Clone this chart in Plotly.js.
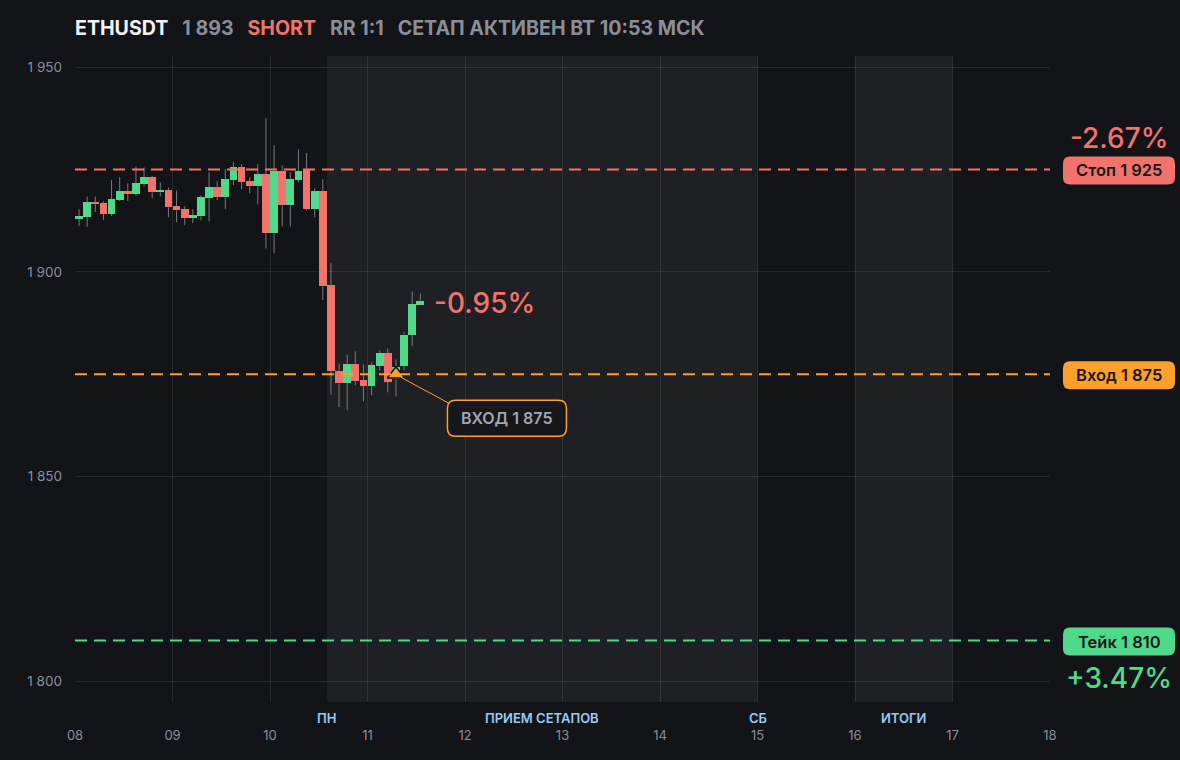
<!DOCTYPE html>
<html>
<head>
<meta charset="utf-8">
<script src="https://cdn.plot.ly/plotly-3.0.1.min.js"></script>
<style>
html,body{margin:0;padding:0;background:#131418;}
#chart{width:1180px;height:760px;}
</style>
</head>
<body>
<div id="chart"></div>
<script>
// ---------- DATA ----------
const symbol = 'ETHUSDT';
const lastPriceLabel = '1\u00a0893';
const side = 'SHORT';
const rrLabel = 'RR 1:1';
const statusLabel = 'СЕТАП АКТИВЕН ВТ 10:53 МСК';

const firstCandleUTC = Date.UTC(2023, 6, 8, 0, 0);   // 08 00:00
const candleHours = 2;

const open  = [1912.9,1913.4,1917.0,1916.7,1914.1,1917.6,1919.7,1919.0,1921.4,1923.1,
               1919.4,1919.9,1916.0,1915.3,1913.1,1913.6,1918.0,1920.6,1918.2,1922.4,
               1925.5,1922.1,1920.9,1923.8,1909.4,1924.6,1916.3,1922.4,1925.1,1915.3,
               1919.7,1896.7,1875.9,1872.8,1877.6,1873.5,1872.1,1877.0,1880.1,1873.8,
               1877.0,1884.6,1892.0];
const high  = [1915.3,1918.4,1918.4,1917.2,1922.4,1923.1,1921.6,1925.8,1925.5,1923.4,
               1921.9,1920.6,1919.9,1916.0,1915.3,1918.7,1924.3,1922.1,1925.1,1926.8,
               1926.3,1923.1,1926.3,1937.5,1930.9,1926.0,1924.3,1929.9,1929.0,1920.4,
               1922.6,1902.1,1877.6,1879.8,1880.6,1877.4,1877.9,1880.8,1881.3,1878.6,
               1885.3,1895.2,1894.7];
const low   = [1911.2,1911.0,1914.6,1912.7,1913.6,1917.3,1917.3,1918.6,1920.9,1918.0,
               1918.5,1913.3,1912.1,1911.4,1911.9,1912.6,1912.3,1917.5,1915.3,1921.2,
               1920.2,1919.2,1916.5,1905.7,1904.5,1911.1,1911.1,1921.8,1915.0,1913.3,
               1893.1,1870.0,1867.0,1866.2,1872.3,1868.4,1869.9,1875.9,1870.6,1869.6,
               1876.0,1881.9,1891.8];
const close = [1913.6,1917.0,1916.5,1914.1,1917.7,1919.7,1919.0,1921.6,1923.1,1919.4,
               1919.9,1915.8,1915.0,1913.1,1913.8,1918.2,1920.6,1918.2,1922.6,1925.5,
               1921.9,1920.9,1923.8,1909.4,1924.6,1916.3,1922.6,1924.6,1915.3,1919.7,
               1896.5,1875.8,1872.8,1877.6,1873.3,1872.1,1877.2,1880.1,1873.1,1876.9,
               1884.7,1892.1,1893.0];

const currentPrice = 1893;
const stopPrice = 1925, entryPrice = 1875, takePrice = 1810;
const stopLabel = 'Стоп 1\u00a0925';
const entryLevelLabel = 'Вход 1\u00a0875';
const takeLabel = 'Тейк 1\u00a0810';
const stopPct = '-2.67%';
const takePct = '+3.47%';
const currentPct = '-0.95%';
const entryTime = '2023-07-11 07:00';
const entryBoxLabel = 'ВХОД 1\u00a0875';

const zoneStarts = ['2023-07-10 14:00', '2023-07-16 00:00'];
const zoneEnds   = ['2023-07-15 00:00', '2023-07-17 00:00'];
const sessionLabels = ['ПН', 'ПРИЕМ СЕТАПОВ', 'СБ', 'ИТОГИ'];
const sessionLabelTimes = ['2023-07-10 14:00', '2023-07-12 19:00', '2023-07-15 00:00', '2023-07-16 12:00'];

const xRange = ['2023-07-08 00:00', '2023-07-18 00:00'];
const yRange = [1795, 1952.7];
const yTickVals = [1800, 1850, 1900, 1950];
const yTickText = ['1\u00a0800', '1\u00a0850', '1\u00a0900', '1\u00a0950'];

// ---------- STYLE ----------
const C = {
  bg: '#131418', zone: '#1f2024', grid: 'rgba(255,255,255,0.085)',
  up: '#4fd98a', down: '#f2726c', wick: '#777a82', entry: '#ff9f2e',
  tick: '#8b8e97', session: '#9ccaf4', white: '#f1f2f4', darkText: '#18191d'
};
const FONT = 'Inter, "Noto Sans", sans-serif';
const HOUR = 3600 * 1000;

const times = open.map((_, i) => firstCandleUTC + (i + 0.5) * candleHours * HOUR);
const colors = open.map((o, i) => close[i] >= o ? C.up : C.down);
const bodyBase = open.map((o, i) => Math.min(o, close[i]));
const bodyLen = open.map((o, i) => Math.abs(close[i] - o));

const wx = [], wy = [];
times.forEach((t, i) => {
  const top = Math.max(open[i], close[i]), bot = Math.min(open[i], close[i]);
  wx.push(t, t, null, t, t, null);
  wy.push(high[i], top, null, bot, low[i], null);
});

const traces = [
  { type: 'scatter', mode: 'lines', x: wx, y: wy, line: { color: C.wick, width: 1 },
    hoverinfo: 'skip', connectgaps: false },
  { type: 'bar', x: times, y: bodyLen, base: bodyBase, width: candleHours * HOUR * 0.94,
    marker: { color: colors, line: { width: 0 } }, hoverinfo: 'skip' },
  { type: 'scatter', mode: 'markers', x: [entryTime], y: [entryPrice],
    marker: { symbol: 'triangle-up', size: 15, color: C.entry, line: { color: '#101114', width: 1.5 } },
    hoverinfo: 'skip' }
];

function rrPath(cx, cy, w, h, r) {
  const l = cx - w / 2, rt = cx + w / 2, b = cy - h / 2, t = cy + h / 2;
  return `M ${l + r},${t} L ${rt - r},${t} Q ${rt},${t} ${rt},${t - r} L ${rt},${b + r} ` +
         `Q ${rt},${b} ${rt - r},${b} L ${l + r},${b} Q ${l},${b} ${l},${b + r} ` +
         `L ${l},${t - r} Q ${l},${t} ${l + r},${t} Z`;
}

const shapes = [];
zoneStarts.forEach((s, i) => shapes.push({
  type: 'rect', xref: 'x', yref: 'paper', x0: s, x1: zoneEnds[i], y0: 0, y1: 1,
  fillcolor: C.zone, line: { width: 0 }, layer: 'below'
}));
[[stopPrice, C.down], [entryPrice, C.entry], [takePrice, C.up]].forEach(([p, col]) => shapes.push({
  type: 'line', xref: 'paper', yref: 'y', x0: 0, x1: 1, y0: p, y1: p,
  line: { color: col, width: 2, dash: '12px,7px' }, layer: 'above'
}));
// right-hand level tags
[[stopPrice, C.down], [entryPrice, C.entry], [takePrice, C.up]].forEach(([p, col]) => shapes.push({
  type: 'path', xref: 'paper', yref: 'y', xsizemode: 'pixel', ysizemode: 'pixel',
  xanchor: 1, yanchor: p, path: rrPath(69, -1, 112, 28, 7),
  fillcolor: col, line: { width: 0 }, layer: 'above'
}));
// entry callout box and connector
shapes.push({
  type: 'path', xref: 'x', yref: 'y', xsizemode: 'pixel', ysizemode: 'pixel',
  xanchor: entryTime, yanchor: entryPrice, path: rrPath(111, -44, 119, 36, 8),
  fillcolor: '#16171b', line: { color: C.entry, width: 1.5 }, layer: 'above'
});
shapes.push({
  type: 'line', xref: 'x', yref: 'y', xsizemode: 'pixel', ysizemode: 'pixel',
  xanchor: entryTime, yanchor: entryPrice, x0: 5, y0: -3, x1: 53, y1: -29,
  line: { color: C.entry, width: 1 }, layer: 'above'
});

const annotations = [];
[[stopPrice, stopLabel], [entryPrice, entryLevelLabel], [takePrice, takeLabel]].forEach(([p, t]) => annotations.push({
  xref: 'paper', yref: 'y', x: 1, y: p, xshift: 69, yshift: -1, text: t, showarrow: false,
  xanchor: 'center', yanchor: 'middle',
  font: { family: FONT, size: 16.5, color: C.darkText, weight: 600 }
}));
annotations.push({ xref: 'paper', yref: 'y', x: 1, y: stopPrice, xshift: 69, yshift: 31,
  text: stopPct, showarrow: false, xanchor: 'center', yanchor: 'middle',
  font: { family: FONT, size: 28, color: C.down, weight: 500 } });
annotations.push({ xref: 'paper', yref: 'y', x: 1, y: takePrice, xshift: 69, yshift: -37,
  text: takePct, showarrow: false, xanchor: 'center', yanchor: 'middle',
  font: { family: FONT, size: 28, color: C.up, weight: 500 } });
annotations.push({ xref: 'x', yref: 'y', x: times[times.length - 1], y: currentPrice, xshift: 12, yshift: -2,
  text: currentPct, showarrow: false, xanchor: 'left', yanchor: 'middle',
  font: { family: FONT, size: 28, color: C.down, weight: 500 } });
annotations.push({ xref: 'x', yref: 'y', x: entryTime, y: entryPrice, xshift: 111, yshift: -44,
  text: entryBoxLabel, showarrow: false, xanchor: 'center', yanchor: 'middle',
  font: { family: FONT, size: 16, color: '#a3a6ae', weight: 600 } });
sessionLabels.forEach((t, i) => annotations.push({
  xref: 'x', yref: 'paper', x: sessionLabelTimes[i], y: 0, yshift: -6, text: t, showarrow: false,
  xanchor: 'center', yanchor: 'top',
  font: { family: FONT, size: 13, color: C.session, weight: 600 }
}));

const sp = '&nbsp;&nbsp;&nbsp;';
const titleText =
  `<span style="color:${C.white}">${symbol}</span>${sp}` +
  `<span style="color:${C.tick}">${lastPriceLabel}</span>${sp}` +
  `<span style="color:${C.down}">${side}</span>${sp}` +
  `<span style="color:${C.tick}">${rrLabel}</span>${sp}` +
  `<span style="color:${C.tick}">${statusLabel}</span>`;

const layout = {
  width: 1180, height: 760,
  paper_bgcolor: C.bg, plot_bgcolor: C.bg,
  margin: { l: 75, r: 130, t: 56, b: 58 },
  showlegend: false, hovermode: false, bargap: 0,
  title: { text: titleText, x: 75 / 1180, xref: 'container', xanchor: 'left',
           y: 1 - 28 / 760, yref: 'container', yanchor: 'middle',
           font: { family: FONT, size: 19.6, weight: 700, color: C.white } },
  xaxis: { type: 'date', range: xRange, tick0: xRange[0], dtick: 86400000, tickformat: '%d',
           showgrid: true, gridcolor: C.grid, gridwidth: 1, zeroline: false, showline: false,
           ticks: '', ticklabelstandoff: 24,
           tickfont: { family: FONT, size: 13, color: C.tick }, fixedrange: true },
  yaxis: { range: yRange, tickvals: yTickVals, ticktext: yTickText,
           showgrid: true, gridcolor: C.grid, gridwidth: 1, zeroline: false, showline: false,
           ticks: '', ticklabelstandoff: 12,
           tickfont: { family: FONT, size: 13.5, color: C.tick }, fixedrange: true },
  shapes: shapes, annotations: annotations
};

Plotly.newPlot('chart', traces, layout, { displayModeBar: false, staticPlot: true });
</script>
</body>
</html>
